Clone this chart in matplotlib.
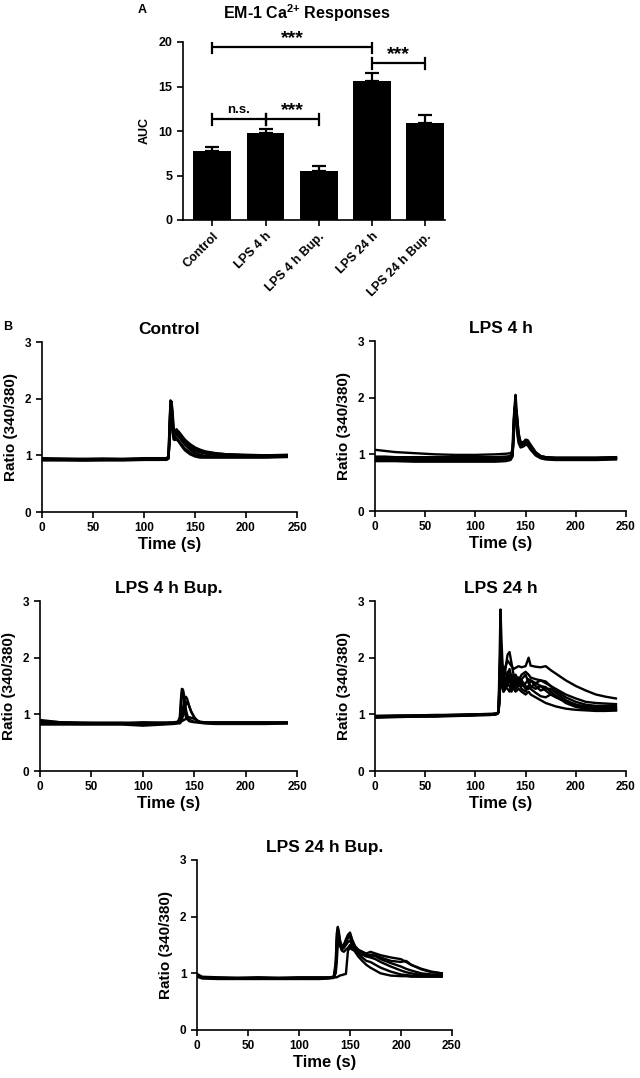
import matplotlib
matplotlib.use("Agg")
import matplotlib.pyplot as plt

plt.rcParams['font.family'] = ['Liberation Sans', 'DejaVu Sans']
plt.rcParams['font.weight'] = 'bold'
plt.rcParams['axes.labelweight'] = 'bold'
plt.rcParams['axes.titleweight'] = 'bold'
plt.rcParams['mathtext.fontset'] = 'custom'
plt.rcParams['mathtext.rm'] = 'Liberation Sans:bold'
plt.rcParams['mathtext.bf'] = 'Liberation Sans:bold'

# ---------------- Panel A data ----------------
groups = ["Control", "LPS 4 h", "LPS 4 h Bup.", "LPS 24 h", "LPS 24 h Bup."]
auc_mean = [7.8, 9.75, 5.55, 15.65, 10.9]
auc_sem = [0.35, 0.45, 0.55, 0.9, 0.85]
# (left group, right group, height, label)
brackets = [(0, 3, 19.4, "***"), (3, 4, 17.6, "***"), (0, 1, 11.3, "n.s."), (1, 2, 11.3, "***")]

# ---------------- Panel B data ----------------
t_ctrl = [0, 20, 40, 60, 80, 100, 115, 122, 124, 125, 126, 127, 128, 129, 130, 132, 134, 137, 140, 145, 150, 155, 160, 170, 180, 200, 220, 240]
ctrl = [
    [0.93,0.92,0.93,0.92,0.93,0.93,0.93,0.94,0.97,1.55,1.97,1.92,1.55,1.38,1.42,1.46,1.40,1.31,1.23,1.14,1.08,1.05,1.03,1.01,1.00,0.99,0.99,1.00],
    [0.92,0.92,0.91,0.92,0.92,0.92,0.92,0.93,0.95,1.40,1.90,1.85,1.45,1.32,1.30,1.31,1.26,1.19,1.12,1.05,1.00,0.98,0.97,0.97,0.97,0.97,0.97,0.98],
    [0.94,0.94,0.93,0.94,0.93,0.94,0.94,0.95,0.96,1.20,1.75,1.88,1.70,1.45,1.38,1.40,1.36,1.30,1.25,1.18,1.12,1.08,1.06,1.03,1.02,1.00,1.00,1.00],
    [0.91,0.91,0.91,0.91,0.91,0.92,0.92,0.92,0.94,1.30,1.82,1.70,1.40,1.28,1.27,1.28,1.24,1.16,1.09,1.02,0.98,0.96,0.96,0.96,0.96,0.96,0.96,0.97],
    [0.93,0.93,0.93,0.93,0.93,0.93,0.93,0.93,0.96,1.50,1.93,1.80,1.50,1.36,1.33,1.36,1.33,1.26,1.19,1.10,1.04,1.01,0.99,0.98,0.98,0.98,0.98,0.99],
    [0.95,0.94,0.94,0.94,0.94,0.95,0.95,0.95,0.98,1.25,1.65,1.95,1.78,1.50,1.42,1.44,1.42,1.35,1.28,1.20,1.14,1.10,1.07,1.04,1.02,1.01,1.00,1.01],
]

t_l4 = [0, 10, 20, 40, 60, 80, 100, 120, 130, 135, 137, 138, 139, 140, 141, 142, 143, 145, 148, 150, 152, 155, 160, 165, 170, 180, 200, 220, 240]
lps4 = [
    [1.08,1.06,1.04,1.02,1.00,0.99,0.99,1.00,1.01,1.02,1.05,1.40,1.85,2.05,1.80,1.50,1.30,1.20,1.22,1.25,1.24,1.15,1.03,0.97,0.95,0.94,0.94,0.94,0.95],
    [0.96,0.96,0.95,0.95,0.95,0.95,0.95,0.95,0.96,0.97,1.10,1.60,1.83,1.75,1.60,1.40,1.25,1.15,1.18,1.22,1.20,1.12,1.02,0.96,0.94,0.93,0.93,0.93,0.93],
    [0.92,0.92,0.92,0.92,0.91,0.91,0.91,0.92,0.93,0.94,1.00,1.35,1.70,1.82,1.70,1.50,1.30,1.18,1.20,1.24,1.23,1.14,1.02,0.95,0.93,0.92,0.92,0.92,0.93],
    [0.90,0.90,0.89,0.89,0.89,0.89,0.89,0.90,0.90,0.92,0.98,1.25,1.60,1.78,1.72,1.55,1.35,1.20,1.17,1.20,1.22,1.13,1.00,0.94,0.92,0.91,0.91,0.91,0.92],
    [0.88,0.88,0.88,0.87,0.87,0.87,0.87,0.87,0.88,0.90,0.96,1.45,1.80,1.70,1.50,1.32,1.20,1.12,1.14,1.17,1.16,1.08,0.98,0.93,0.91,0.90,0.90,0.90,0.91],
    [0.93,0.93,0.93,0.92,0.92,0.92,0.92,0.93,0.94,0.96,1.02,1.30,1.65,1.84,1.76,1.58,1.38,1.22,1.21,1.26,1.25,1.17,1.04,0.97,0.95,0.94,0.94,0.94,0.95],
]

t_b4 = [0, 10, 20, 40, 60, 80, 100, 120, 130, 134, 136, 137, 138, 139, 140, 141, 142, 143, 144, 145, 147, 150, 153, 156, 160, 170, 200, 220, 240]
lps4bup = [
    [0.88,0.87,0.86,0.85,0.85,0.85,0.84,0.85,0.85,0.86,0.95,1.25,1.45,1.42,1.20,1.02,0.95,0.92,0.90,0.88,0.87,0.86,0.86,0.85,0.85,0.85,0.85,0.85,0.85],
    [0.90,0.88,0.86,0.85,0.85,0.85,0.85,0.85,0.86,0.87,0.90,1.10,1.38,1.44,1.35,1.20,1.08,1.00,0.95,0.92,0.89,0.87,0.86,0.86,0.86,0.86,0.86,0.86,0.86],
    [0.85,0.84,0.84,0.83,0.83,0.83,0.83,0.83,0.84,0.85,0.86,0.90,1.00,1.10,1.20,1.28,1.31,1.28,1.22,1.15,1.05,0.95,0.89,0.86,0.85,0.84,0.84,0.84,0.84],
    [0.82,0.82,0.82,0.82,0.82,0.82,0.80,0.82,0.83,0.84,0.84,0.86,0.90,0.97,1.05,1.12,1.18,1.22,1.20,1.15,1.05,0.95,0.88,0.85,0.84,0.83,0.83,0.83,0.84],
    [0.86,0.86,0.85,0.85,0.84,0.84,0.86,0.85,0.85,0.86,0.86,0.87,0.88,0.89,0.90,0.91,0.92,0.93,0.94,0.95,0.94,0.92,0.89,0.87,0.86,0.85,0.85,0.85,0.85],
]

t_l24 = [0, 20, 40, 60, 80, 100, 115, 120, 122, 123, 124, 125, 126, 127, 128, 130, 132, 134, 136, 138, 140, 143, 146, 150, 153, 155, 160, 165, 170, 175, 180, 190, 200, 210, 220, 230, 240]
lps24 = [
    [0.97,0.97,0.97,0.98,0.99,0.99,1.00,1.01,1.02,1.05, 1.60,2.30,2.00,1.80,1.75,1.85,1.95,1.90,1.85,1.80,1.82,1.85,1.83,1.85,2.00,1.86,1.84,1.83,1.85,1.78,1.72,1.60,1.50,1.42,1.35,1.31,1.28],
    [0.96,0.97,0.97,0.98,0.98,0.99,1.00,1.01,1.02,1.06, 1.90,2.85,2.30,1.90,1.70,1.60,1.50,1.65,1.70,1.55,1.50,1.60,1.70,1.75,1.70,1.65,1.62,1.60,1.55,1.50,1.45,1.35,1.28,1.22,1.20,1.19,1.18],
    [0.95,0.96,0.97,0.97,0.98,0.99,0.99,1.00,1.01,1.04, 1.50,2.10,1.80,1.60,1.55,1.80,2.05,2.10,1.90,1.70,1.55,1.50,1.60,1.50,1.45,1.48,1.55,1.50,1.42,1.35,1.30,1.22,1.17,1.14,1.12,1.11,1.10],
    [0.97,0.97,0.98,0.98,0.99,1.00,1.00,1.01,1.02,1.04, 1.30,1.90,1.75,1.55,1.45,1.50,1.60,1.70,1.55,1.45,1.55,1.65,1.55,1.45,1.50,1.60,1.55,1.60,1.58,1.50,1.42,1.30,1.22,1.17,1.15,1.15,1.15],
    [0.94,0.95,0.96,0.96,0.97,0.98,0.99,1.00,1.01,1.03, 1.40,2.00,1.70,1.50,1.40,1.45,1.55,1.50,1.40,1.55,1.65,1.55,1.45,1.40,1.50,1.45,1.38,1.32,1.30,1.35,1.32,1.22,1.15,1.10,1.08,1.07,1.07],
    [0.96,0.96,0.97,0.97,0.98,0.99,1.00,1.00,1.02,1.04, 1.20,1.70,1.90,1.65,1.50,1.55,1.70,1.80,1.65,1.50,1.45,1.50,1.62,1.70,1.55,1.50,1.45,1.50,1.48,1.40,1.33,1.20,1.13,1.10,1.09,1.08,1.08],
    [0.95,0.96,0.96,0.97,0.98,0.99,0.99,1.00,1.01,1.05, 1.50,2.20,1.85,1.60,1.50,1.60,1.75,1.60,1.50,1.60,1.70,1.60,1.50,1.55,1.62,1.60,1.50,1.42,1.45,1.45,1.38,1.25,1.17,1.12,1.11,1.11,1.12],
    [0.97,0.98,0.98,0.99,0.99,1.00,1.01,1.01,1.02,1.04, 1.25,1.80,1.60,1.45,1.40,1.48,1.45,1.40,1.50,1.45,1.40,1.45,1.40,1.35,1.40,1.35,1.30,1.25,1.20,1.17,1.14,1.10,1.08,1.07,1.06,1.06,1.07],
]

t_b24 = [0, 5, 20, 40, 60, 80, 100, 120, 130, 134, 136, 137, 138, 139, 140, 142, 144, 146, 148, 150, 152, 155, 158, 162, 166, 170, 175, 180, 190, 200, 205, 210, 220, 230, 240]
lps24bup = [
    [0.98,0.93,0.92,0.91,0.92,0.91,0.92,0.92,0.92,0.93, 1.20,1.70,1.82,1.75,1.60,1.48,1.50,1.60,1.68,1.72,1.60,1.48,1.42,1.38,1.35,1.38,1.35,1.32,1.28,1.25,1.20,1.15,1.08,1.03,1.00],
    [0.96,0.92,0.91,0.91,0.91,0.91,0.91,0.91,0.92,0.93, 1.10,1.50,1.75,1.70,1.55,1.45,1.48,1.55,1.62,1.65,1.55,1.45,1.38,1.33,1.30,1.33,1.32,1.28,1.22,1.20,1.22,1.15,1.07,1.02,1.00],
    [0.94,0.91,0.90,0.90,0.90,0.90,0.90,0.90,0.91,0.92, 1.05,1.40,1.65,1.60,1.50,1.42,1.45,1.50,1.55,1.58,1.50,1.40,1.35,1.28,1.22,1.20,1.15,1.10,1.03,0.98,0.97,0.96,0.95,0.95,0.95],
    [0.97,0.93,0.92,0.92,0.92,0.92,0.92,0.92,0.92,0.93, 1.00,1.20,1.50,1.55,1.50,1.40,1.38,1.42,1.45,1.50,1.45,1.38,1.30,1.22,1.15,1.10,1.05,1.00,0.96,0.95,0.95,0.94,0.94,0.94,0.94],
    [0.95,0.92,0.91,0.91,0.91,0.91,0.91,0.91,0.92,0.93, 0.93,0.93,0.94,0.95,0.96,0.97,0.98,0.99,1.40,1.45,1.42,1.40,1.38,1.35,1.30,1.28,1.25,1.20,1.12,1.05,1.02,1.00,0.97,0.96,0.96],
    [0.99,0.94,0.93,0.92,0.93,0.92,0.93,0.93,0.93,0.94, 1.10,1.60,1.78,1.68,1.52,1.45,1.50,1.58,1.66,1.70,1.58,1.45,1.40,1.38,1.33,1.30,1.30,1.25,1.18,1.12,1.08,1.05,1.00,0.98,0.97],
]

panels_b = [
    ("Control", t_ctrl, ctrl, [42, 297, 512, 342]),
    ("LPS 4 h", t_l4, lps4, [375, 626, 511, 341]),
    ("LPS 4 h Bup.", t_b4, lps4bup, [40, 297, 771, 601]),
    ("LPS 24 h", t_l24, lps24, [375, 626, 771, 601]),
    ("LPS 24 h Bup.", t_b24, lps24bup, [197, 452, 1030, 860]),
]

W, H = 640, 1078
fig = plt.figure(figsize=(W / 100, H / 100), dpi=100)


def rect(l, r, b, t):
    return [l / W, 1 - b / H, (r - l) / W, (b - t) / H]


def style(ax, lw=1.2):
    for s in ("top", "right"):
        ax.spines[s].set_visible(False)
    for s in ("left", "bottom"):
        ax.spines[s].set_linewidth(lw)
    ax.tick_params(direction="out", length=4, width=lw)


# ---------------- Panel A ----------------
axA = fig.add_axes(rect(183, 445, 220, 42))
xs = list(range(len(groups)))
axA.bar(xs, auc_mean, width=0.71, color="black")
axA.errorbar(xs, auc_mean, yerr=[[0] * len(auc_sem), auc_sem], fmt="none",
             ecolor="black", elinewidth=1.6, capsize=5, capthick=1.6)
axA.set_xlim(-0.55, 4.37)
axA.set_ylim(0, 20)
axA.set_yticks([0, 5, 10, 15, 20])
axA.set_xticks(xs)
axA.set_xticklabels(groups, rotation=45, ha="right", rotation_mode="anchor", fontsize=9)
axA.tick_params(axis="y", labelsize=9)
axA.set_ylabel("AUC", fontsize=9, labelpad=6)
style(axA)
for g1, g2, h, lab in brackets:
    axA.plot([g1, g2], [h, h], color="black", lw=1.6, solid_capstyle="butt")
    for g in (g1, g2):
        axA.plot([g, g], [h - 0.6, h + 0.6], color="black", lw=1.6)
    if lab == "***":
        axA.text((g1 + g2) / 2, h + 0.05, lab, ha="center", va="bottom",
                 fontsize=14, fontweight="bold")
    else:
        axA.text((g1 + g2) / 2, h + 0.35, lab, ha="center", va="bottom",
                 fontsize=9.5, fontweight="bold")
fig.text(307 / W, 1 - 13 / H, r"EM-1 Ca$^{\text{2+}}$ Responses", ha="center", va="center",
         fontsize=11.5, fontweight="bold")
fig.text(142 / W, 1 - 10 / H, "A", ha="center", va="center", fontsize=9, fontweight="bold")
fig.text(8 / W, 1 - 327 / H, "B", ha="center", va="center", fontsize=9, fontweight="bold")

# ---------------- Panel B ----------------
for title, t, traces, (l, r, b, tp) in panels_b:
    ax = fig.add_axes(rect(l, r, b, tp))
    for tr in traces:
        ax.plot(t, tr, color="black", lw=1.7, solid_joinstyle="round")
    ax.set_xlim(0, 250)
    ax.set_ylim(0, 3)
    ax.set_xticks([0, 50, 100, 150, 200, 250])
    ax.set_yticks([0, 1, 2, 3])
    ax.tick_params(labelsize=8.5)
    ax.set_xlabel("Time (s)", fontsize=12, labelpad=2)
    ax.set_ylabel("Ratio (340/380)", fontsize=11, labelpad=5)
    ax.set_title(title, fontsize=12.5, fontweight="bold", pad=6)
    style(ax)

fig.savefig("out.png", dpi=100)
